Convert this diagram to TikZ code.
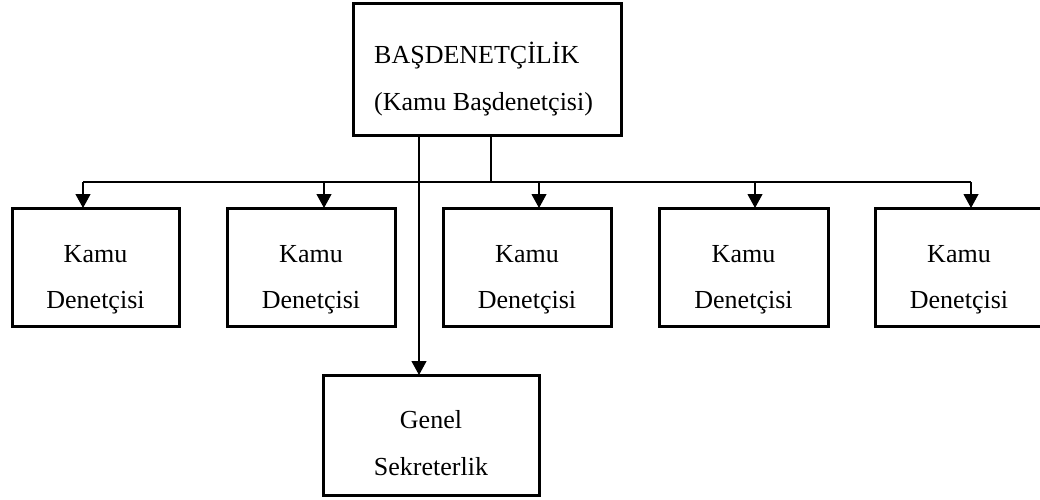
\documentclass[tikz,border=0pt]{standalone}
\usepackage{fontspec}
\setmainfont{Liberation Serif}
\usetikzlibrary{arrows.meta}
\tikzset{
  box/.style={draw=black, line width=3pt, rectangle, inner sep=0pt, outer sep=0pt},
  lbl/.style={inner sep=0pt, anchor=base, font=\fontsize{26}{31}\selectfont},
  conn/.style={draw=black, line width=1.1pt},
  arr/.style={conn, -{Triangle[width=15pt,length=14pt]}}
}
\begin{document}
\begin{tikzpicture}[x=1pt,y=-1pt]
\useasboundingbox (0,0) rectangle (1040,499);
% boxes
\node[box, minimum width=268pt, minimum height=132pt] (top) at (487,69) {};
\node[box, minimum width=167pt, minimum height=118pt] (k1) at (95.5,267) {};
\node[box, minimum width=168pt, minimum height=118pt] (k2) at (311,267) {};
\node[box, minimum width=168pt, minimum height=118pt] (k3) at (527,267) {};
\node[box, minimum width=169pt, minimum height=118pt] (k4) at (743.5,267) {};
\node[box, minimum width=168pt, minimum height=118pt] (k5) at (959,267) {};
\node[box, minimum width=216pt, minimum height=120pt] (gs) at (431,435) {};
% texts
\node[lbl, anchor=base west] (t1) at (374,63) {BAŞDENETÇİLİK};
\node[lbl, anchor=base west] (t2) at (374,110) {(Kamu Başdenetçisi)};
\foreach \n/\x in {1/95.5,2/311,3/527,4/743.5,5/959}{
  \node[lbl] (ka\n) at (\x,262) {Kamu};
  \node[lbl] (kb\n) at (\x,308) {Denetçisi};
}
\node[lbl] (g1) at (431,428) {Genel};
\node[lbl] (g2) at (431,475) {Sekreterlik};
% connectors
\coordinate (jm) at (491,182);
\coordinate (jg) at (419,182);
\coordinate (j1) at (83,182);
\coordinate (j2) at (324,182);
\coordinate (j3) at (539,182);
\coordinate (j4) at (755,182);
\coordinate (j5) at (971,182);
\draw[conn] (top.south -| jm) -- (jm);
\draw[conn] (j1) -- (j5);
\foreach \i in {1,...,5}{
  \draw[arr] (j\i) -- (k\i.north -| j\i);
}
\draw[arr] (top.south -| jg) -- (gs.north -| jg);
\end{tikzpicture}
\end{document}
